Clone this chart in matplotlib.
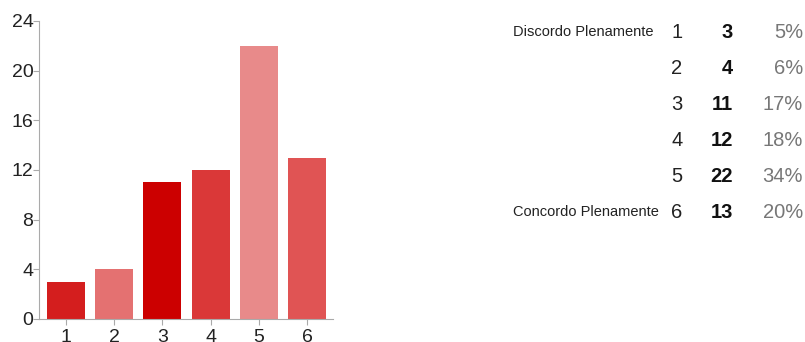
import matplotlib
matplotlib.use("Agg")
import matplotlib.pyplot as plt

plt.rcParams['font.family'] = ['Liberation Sans', 'DejaVu Sans']

categories = [1, 2, 3, 4, 5, 6]
counts = [3, 4, 11, 12, 22, 13]
percents = ["5%", "6%", "17%", "18%", "34%", "20%"]
row_labels = ["Discordo Plenamente", "", "", "", "", "Concordo Plenamente"]
bar_colors = ["#d41e1e", "#e47171", "#cc0000", "#da3838", "#e88a8a", "#e05454"]

fig = plt.figure(figsize=(8.05, 3.42), dpi=100)
ax = fig.add_axes([0.0484, 0.0673, 0.3653, 0.8713])

ax.bar(categories, counts, width=0.79, color=bar_colors)
ax.set_xlim(0.44, 6.54)
ax.set_ylim(0, 24)
ax.set_yticks([0, 4, 8, 12, 16, 20, 24])
ax.set_xticks(categories)
for s in ["top", "right"]:
    ax.spines[s].set_visible(False)
for s in ["left", "bottom"]:
    ax.spines[s].set_color("#aaaaaa")
ax.tick_params(colors="#aaaaaa", labelcolor="#222222", labelsize=14, length=4, width=0.8)
ax.tick_params(axis="y", pad=0)
ax.tick_params(axis="x", pad=3)

# summary table on the right
y0, dy = 32, 36
for i, (lab, c, n, p) in enumerate(zip(row_labels, categories, counts, percents)):
    y = 1 - (y0 + i * dy) / 342
    if lab:
        fig.text(513 / 805, y, lab, fontsize=10.5, color="#222222", va="center", ha="left")
    fig.text(671 / 805, y, str(c), fontsize=14.5, color="#222222", va="center", ha="left")
    fig.text(733 / 805, y, str(n), fontsize=14.5, fontweight="bold", color="#111111", va="center", ha="right")
    fig.text(803 / 805, y, p, fontsize=14.5, color="#777777", va="center", ha="right")

fig.savefig("out.png", dpi=100)
